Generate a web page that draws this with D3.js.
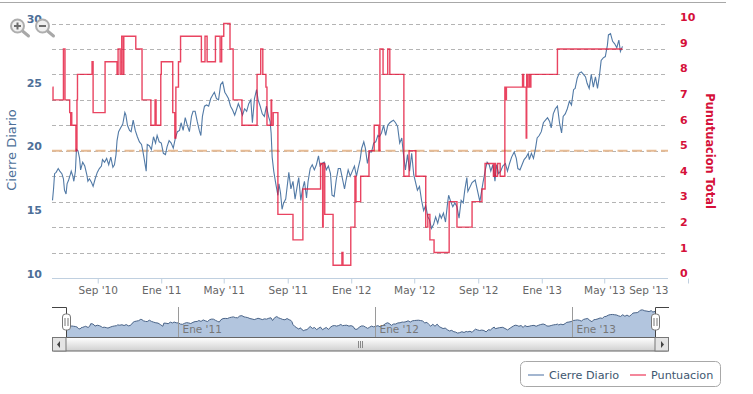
<!DOCTYPE html>
<html>
<head>
<meta charset="utf-8">
<script src="https://cdn.jsdelivr.net/npm/d3@7"></script>
<style>
  body { margin: 0; background: #fff; }
  text { font-family: "DejaVu Sans", sans-serif; }
</style>
</head>
<body>
<div id="chart"></div>
<script>
"use strict"

// dias contados desde fechaInicio
let fechaInicio = new Date(2010, 5, 9);

let cierreDias = [0,2,4,7,11,14,18,21,23,26,28,31,34,36,39,41,44,46,49,52,54,58,62,66,68,71,75,78,82,86,90,94,96,100,104,108,112,116,119,122,124,127,131,135,139,141,144,148,151,155,159,163,167,171,173,176,180,182,186,190,194,198,201,205,209,213,217,220,224,228,232,236,240,244,247,251,255,259,263,267,270,274,278,282,285,288,292,296,300,304,308,311,315,319,323,327,331,334,338,342,346,350,354,357,361,365,369,373,377,381,384,388,392,395,399,403,407,411,415,418,420,422,425,429,433,435,438,441,444,448,450,454,458,462,466,470,473,477,480,484,488,491,495,499,503,507,511,514,518,522,526,530,534,537,541,545,549,553,557,561,564,568,572,576,580,584,587,591,594,598,601,605,609,613,617,621,625,628,632,636,640,644,648,651,655,659,663,667,671,674,678,682,686,690,694,697,701,705,709,713,717,721,724,728,732,736,740,744,747,751,755,759,761,765,769,773,777,781,785,789,792,796,798,806,812,821,827,832,835,839,842,846,850,853,857,861,865,870,874,878,882,887,891,894,898,902,906,910,914,916,920,924,928,931,935,939,943,947,951,955,958,962,966,970,974,978,981,985,989,993,997,1001,1004,1008,1012,1016,1020,1024,1027,1031,1035,1039,1043,1047,1051,1054,1058,1062,1066,1068,1072,1076,1080,1084,1088,1091,1095];

let cierreValores = [16.1,17.0,18.2,18.3,18.6,18.4,18.2,17.8,16.9,16.6,17.4,17.7,18.1,18.4,18.0,17.6,18.4,20.1,20.0,19.4,18.5,19.1,18.8,18.1,17.6,17.8,17.5,17.2,17.8,18.3,18.6,18.8,19.3,19.1,19.4,18.9,19.5,18.7,18.9,19.7,20.8,21.5,21.8,22.1,23.0,22.8,22.0,21.6,21.5,22.4,21.6,21.1,20.7,20.5,20.1,19.4,18.4,20.5,20.4,20.1,21.1,20.6,21.2,20.7,20.6,19.8,19.7,20.3,20.8,20.6,20.2,21.0,21.5,21.6,22.2,21.6,22.6,22.0,21.5,22.7,23.1,23.1,22.3,21.6,21.2,22.7,23.5,23.6,23.5,24.1,24.4,24.6,24.1,24.0,25.2,25.4,24.6,24.4,24.1,23.5,23.2,22.8,23.3,23.7,23.3,22.8,23.3,23.1,23.7,24.0,22.2,24.1,24.8,24.0,23.5,22.9,22.7,23.5,22.7,22.3,21.4,19.5,18.4,17.4,16.5,17.4,16.7,15.4,15.9,16.2,16.9,18.3,17.0,17.6,16.2,17.2,17.9,16.1,16.9,17.6,16.3,17.6,18.6,18.9,18.5,18.9,19.6,18.8,19.0,19.1,18.5,18.8,18.2,16.5,16.4,17.7,18.6,18.6,17.8,17.0,17.7,18.5,18.0,18.4,18.8,18.0,18.6,19.3,20.2,20.7,20.2,19.0,19.9,19.9,20.6,20.7,21.2,21.1,21.4,22.0,21.2,22.0,22.2,22.3,22.4,22.2,21.9,20.6,21.0,19.8,18.5,19.7,18.4,19.8,18.1,17.6,16.9,17.2,16.1,15.3,15.7,14.8,14.6,13.9,14.2,14.8,14.3,15.0,14.7,15.1,14.4,15.9,16.5,16.0,15.6,15.9,15.6,14.7,16.1,15.9,16.9,17.9,16.8,17.5,17.7,16.0,17.5,18.6,19.1,18.9,18.4,18.9,17.6,18.9,18.2,18.4,18.8,19.0,18.4,19.0,19.5,19.9,19.4,18.6,18.5,18.9,19.3,19.5,19.8,19.3,19.8,19.4,20.2,21.0,21.2,21.5,22.2,22.4,22.6,22.3,21.8,22.9,23.3,23.5,22.2,21.4,22.7,22.9,23.3,23.9,23.6,24.8,24.9,25.7,26.1,26.2,26.0,25.8,25.3,24.9,26.0,25.0,25.8,24.9,26.0,27.1,27.3,27.4,28.3,29.1,29.2,28.6,28.4,28.1,28.7,27.8,28.2];

let puntuacionDias = [0,1,21,24,33,35,36,37,45,47,48,76,78,101,124,126,130,133,136,137,160,172,189,197,199,208,209,231,235,237,242,246,286,293,297,313,322,325,329,341,347,364,393,400,404,410,412,420,421,424,433,462,481,515,519,520,523,539,556,558,573,581,583,592,608,618,627,629,635,644,648,675,685,698,717,721,725,733,762,777,806,825,831,847,849,851,855,860,869,870,872,903,905,910,911,913,916,918,919,970,1095];

let puntuacionValores = [7.5,7,9,7,6.5,6,6.5,6,5,7,8,8.5,6.5,8.5,8,9,8,9.5,8,9.5,9,7,6,7,6,8,8.5,6.5,5.5,7.5,8.5,9.5,8.5,9.5,8.5,9.5,8.5,9.5,10,9,7,6,8,9,8,7.5,6,7,6,6.5,2.5,1.5,3.5,4.5,2,4.5,2.5,0.5,1,0.5,2,4,3,4,5,6,5,9,8,9,8,4,5,4,2,2.5,1.5,1,3,2,3,3.5,4.5,4,4.5,4,4.5,4,7.5,7,7.5,8,7.5,5.5,8,7.5,8,7.5,8,9,9];

let mediaPuntuacion = 5;

let ticksCierre = [10, 15, 20, 25, 30];
let ticksPuntuacion = [0, 1, 2, 3, 4, 5, 6, 7, 8, 9, 10];
let fechasEje = [new Date(2010, 8, 1), new Date(2011, 0, 1), new Date(2011, 4, 1), new Date(2011, 8, 1), new Date(2012, 0, 1), new Date(2012, 4, 1), new Date(2012, 8, 1), new Date(2013, 0, 1), new Date(2013, 4, 1), new Date(2013, 8, 1)];
let fechasNavegador = [new Date(2011, 0, 1), new Date(2012, 0, 1), new Date(2013, 0, 1)];

let etiquetaFecha = d3.timeFormatLocale({
  dateTime: "%x %X", date: "%d/%m/%Y", time: "%H:%M:%S", periods: ["AM", "PM"],
  days: ["domingo", "lunes", "martes", "miércoles", "jueves", "viernes", "sábado"],
  shortDays: ["dom", "lun", "mar", "mié", "jue", "vie", "sáb"],
  months: ["enero", "febrero", "marzo", "abril", "mayo", "junio", "julio", "agosto", "septiembre", "octubre", "noviembre", "diciembre"],
  shortMonths: ["Ene", "Feb", "Mar", "Abr", "May", "Jun", "Jul", "Ago", "Sep", "Oct", "Nov", "Dic"]
}).format("%b '%y");

function fechaDe(dias) {
  return d3.timeDay.offset(fechaInicio, dias);
}

let cierre = cierreDias.map((d, i) => ({ fecha: fechaDe(d), valor: cierreValores[i] }));
let puntuacion = puntuacionDias.map((d, i) => ({ fecha: fechaDe(d), valor: puntuacionValores[i] }));

let plotLeft = 52, plotRight = 668, plotTop = 23.5, plotBottom = 278;

let svg = d3.select("#chart").append("svg")
    .attr("width", 753)
    .attr("height", 394)
    .style("display", "block");

// el eje es ordinal: el tramo sin datos se estira hasta el tick de Sep '13
let xScale = d3.scaleTime()
    .domain([fechaInicio, fechaDe(1095), new Date(2013, 8, 1)])
    .range([52.5, 622.5, 686.5]);

let yCierre = d3.scaleLinear().domain([10, 30]).range([plotBottom, plotTop]);
let yPuntuacion = d3.scaleLinear().domain([0, 10]).range([plotBottom, plotTop]);

svg.append("line")
    .attr("x1", 0).attr("x2", 726)
    .attr("y1", 2.5).attr("y2", 2.5)
    .attr("stroke", "#a8a8a8")
    .attr("stroke-width", 1.2);

drawGrid();
drawAxes();
drawSeries();
drawZoomIcons();
drawNavigator();
drawLegend();

function drawGrid() {
  svg.append("g").selectAll("line")
      .data(ticksPuntuacion.filter(d => d > 0))
      .join("line")
      .attr("x1", plotLeft).attr("x2", plotRight)
      .attr("y1", d => Math.round(yPuntuacion(d)) + 0.5)
      .attr("y2", d => Math.round(yPuntuacion(d)) + 0.5)
      .attr("stroke", "#b4b4b4")
      .attr("stroke-dasharray", "4,3");

  svg.append("line")
      .attr("x1", plotLeft).attr("x2", plotRight)
      .attr("y1", yPuntuacion(mediaPuntuacion)).attr("y2", yPuntuacion(mediaPuntuacion))
      .attr("stroke", "#e6bb94")
      .attr("stroke-width", 2)
      .attr("stroke-dasharray", "10,4.5");
}

function drawAxes() {
  svg.append("line")
      .attr("x1", plotLeft).attr("x2", plotRight)
      .attr("y1", plotBottom + 0.5).attr("y2", plotBottom + 0.5)
      .attr("stroke", "#c0d0e0");

  let xAxis = svg.append("g")
      .attr("transform", "translate(1.5," + (plotBottom + 0.5) + ")")
      .call(d3.axisBottom(xScale).tickValues(fechasEje).tickFormat(etiquetaFecha).tickSize(5).tickPadding(3));
  xAxis.select(".domain").remove();
  xAxis.selectAll("line").attr("stroke", "#c0d0e0");
  xAxis.selectAll("text")
      .attr("fill", "#666")
      .style("font-size", "10.5px");
  // la ultima etiqueta se recoloca dentro del area del grafico
  xAxis.selectAll(".tick").filter((d, i) => i === fechasEje.length - 1).select("text")
      .attr("text-anchor", "end")
      .attr("x", -20);

  let leftAxis = svg.append("g")
      .attr("transform", "translate(" + plotLeft + ",0)")
      .call(d3.axisLeft(yCierre).tickValues(ticksCierre).tickSize(0).tickPadding(10));
  leftAxis.select(".domain").remove();
  leftAxis.selectAll("text")
      .attr("y", -4.5)
      .attr("fill", "#4d6f98")
      .style("font-size", "11px")
      .style("font-weight", "bold");

  let rightAxis = svg.append("g")
      .attr("transform", "translate(" + plotRight + ",0)")
      .call(d3.axisRight(yPuntuacion).tickValues(ticksPuntuacion).tickSize(0).tickPadding(12));
  rightAxis.select(".domain").remove();
  rightAxis.selectAll("text")
      .attr("y", d => -4.8 - d * 0.17)
      .attr("fill", "#d5103a")
      .style("font-size", "11px")
      .style("font-weight", "bold");

  svg.append("text")
      .attr("transform", "translate(16,150) rotate(-90)")
      .attr("text-anchor", "middle")
      .attr("fill", "#4d6f98")
      .style("font-size", "13px")
      .text("Cierre Diario");

  svg.append("text")
      .attr("transform", "translate(706,151) rotate(90)")
      .attr("text-anchor", "middle")
      .attr("fill", "#d5103a")
      .style("font-size", "11.4px")
      .style("font-weight", "bold")
      .text("Punutuacion Total");
}

function drawSeries() {
  let lineaPuntuacion = d3.line()
      .curve(d3.curveStepAfter)
      .x(d => xScale(d.fecha))
      .y(d => yPuntuacion(d.valor));

  let lineaCierre = d3.line()
      .x(d => xScale(d.fecha))
      .y(d => yCierre(d.valor));

  svg.append("path")
      .attr("d", lineaCierre(cierre))
      .attr("fill", "none")
      .attr("stroke", "#527aa6")
      .attr("stroke-width", 1.1);

  svg.append("path")
      .attr("d", lineaPuntuacion(puntuacion))
      .attr("fill", "none")
      .attr("stroke", "#e30f35")
      .attr("stroke-opacity", 0.78)
      .attr("stroke-width", 1.4);
}

function drawZoomIcons() {
  let iconos = [{ x: 17.5, y: 26, signo: "+" }, { x: 42.5, y: 26, signo: "-" }];
  let g = svg.append("g").selectAll("g").data(iconos).join("g")
      .attr("transform", d => "translate(" + d.x + "," + d.y + ")");
  g.append("line")
      .attr("x1", 5).attr("y1", 5).attr("x2", 11).attr("y2", 10)
      .attr("stroke", "#a8a8a8").attr("stroke-width", 3).attr("stroke-linecap", "round");
  g.append("circle")
      .attr("r", 6.5)
      .attr("fill", "#f0f0f0").attr("stroke", "#aeaeae").attr("stroke-width", 2);
  g.append("line")
      .attr("x1", -3.5).attr("x2", 3.5)
      .attr("stroke", "#6e6e6e").attr("stroke-width", 2);
  g.filter(d => d.signo === "+").append("line")
      .attr("y1", -3.5).attr("y2", 3.5)
      .attr("stroke", "#6e6e6e").attr("stroke-width", 2);
}

function drawNavigator() {
  let navLeft = 66, navRight = 655, navTop = 307, navBottom = 337;

  let xNav = d3.scaleTime().domain([fechaInicio, fechaDe(1095)]).range([navLeft, navRight]);
  let yNav = d3.scaleLinear().domain([10, 30]).range([339, 308.7]);

  let defs = svg.append("defs");
  let gradient = defs.append("linearGradient")
      .attr("id", "barraGradient")
      .attr("x1", "0%").attr("y1", "0%").attr("x2", "0%").attr("y2", "100%");
  gradient.append("stop").attr("offset", "0").attr("stop-color", "#ffffff");
  gradient.append("stop").attr("offset", "1").attr("stop-color", "#d0d0d0");

  let area = d3.area()
      .x(d => xNav(d.fecha))
      .y0(navBottom)
      .y1(d => yNav(d.valor));

  svg.append("path")
      .attr("d", area(cierre))
      .attr("fill", "#b2c5de");

  svg.append("path")
      .attr("d", area.lineY1()(cierre))
      .attr("fill", "none")
      .attr("stroke", "#4a6488")
      .attr("stroke-width", 1);

  let marcas = svg.append("g").selectAll("g").data(fechasNavegador).join("g")
      .attr("transform", d => "translate(" + (Math.round(xNav(d) + 1.5) + 0.5) + ",0)");
  marcas.append("line")
      .attr("y1", navTop).attr("y2", navBottom)
      .attr("stroke", "#9a9a9a");
  marcas.append("text")
      .attr("x", 4).attr("y", 333)
      .attr("fill", "#777")
      .style("font-size", "10.5px")
      .text(d => etiquetaFecha(d));

  svg.append("path")
      .attr("d", "M52," + (navTop + 0.5) + "H" + (navLeft + 0.5) + "V" + navBottom)
      .attr("fill", "none").attr("stroke", "#444");
  svg.append("path")
      .attr("d", "M669," + (navTop + 0.5) + "H" + (navRight + 0.5) + "V" + navBottom)
      .attr("fill", "none").attr("stroke", "#444");

  // barra de desplazamiento
  let barra = svg.append("g");
  barra.append("rect")
      .attr("x", 52.5).attr("y", 337.5)
      .attr("width", 616).attr("height", 13.5)
      .attr("rx", 1.5)
      .attr("fill", "url(#barraGradient)")
      .attr("stroke", "#666");
  [[52.5, "M60,341L60,348L57,344.5Z"], [655, "M661,341L661,348L664,344.5Z"]].forEach(b => {
    barra.append("rect")
        .attr("x", b[0]).attr("y", 337.5)
        .attr("width", 13.5).attr("height", 13.5)
        .attr("fill", "#e4e4e4").attr("stroke", "#777");
    barra.append("path").attr("d", b[1]).attr("fill", "#444");
  });
  [358.5, 360.5, 362.5].forEach(x => {
    barra.append("line")
        .attr("x1", x).attr("x2", x)
        .attr("y1", 341).attr("y2", 348)
        .attr("stroke", "#888");
  });

  // asas
  [navLeft, navRight].forEach(x => {
    let asa = svg.append("g").attr("transform", "translate(" + (x + 0.5) + ",322)");
    asa.append("rect")
        .attr("x", -4).attr("y", -8)
        .attr("width", 8).attr("height", 16)
        .attr("rx", 3)
        .attr("fill", "#fff").attr("stroke", "#777");
    [-1.5, 1.5].forEach(dx => {
      asa.append("line")
          .attr("x1", dx).attr("x2", dx)
          .attr("y1", -4).attr("y2", 4)
          .attr("stroke", "#777");
    });
  });
}

function drawLegend() {
  let legend = svg.append("g");
  legend.append("rect")
      .attr("x", 520.5).attr("y", 361.5)
      .attr("width", 200).attr("height", 25)
      .attr("rx", 5)
      .attr("fill", "#fff")
      .attr("stroke", "#a8a8a8");

  let items = [
    { nombre: "Cierre Diario", color: "#a3b6d0", x: 528 },
    { nombre: "Puntuacion", color: "#f4879b", x: 630 }
  ];
  let g = legend.selectAll("g").data(items).join("g")
      .attr("transform", d => "translate(" + d.x + ",375)");
  g.append("line")
      .attr("x2", 16)
      .attr("stroke", d => d.color)
      .attr("stroke-width", 2);
  g.append("text")
      .attr("x", 21).attr("y", 4)
      .attr("fill", "#3e576f")
      .style("font-size", "11.2px")
      .text(d => d.nombre);
}
</script>
</body>
</html>
